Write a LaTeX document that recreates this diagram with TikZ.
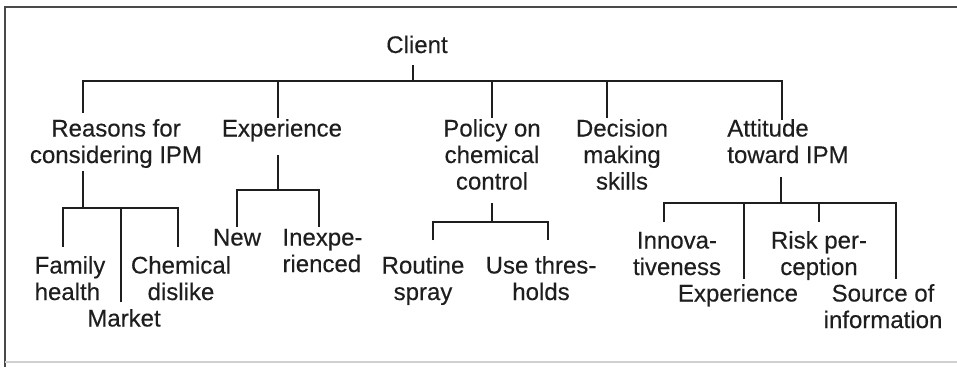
\documentclass[tikz,border=0pt]{standalone}
\usepackage{fontspec}
\setmainfont{Liberation Sans}
\newfontfamily\lblfont{Liberation Sans}[FakeBold=0.3]
\begin{document}
\definecolor{ink}{HTML}{1E1E1E}
\definecolor{framec}{HTML}{4A4A4A}
\definecolor{framelight}{HTML}{D0D0D0}
\begin{tikzpicture}[x=1pt,y=-1pt,
  lbl/.style={font=\lblfont\fontsize{24}{26.5}\selectfont, inner sep=0pt, text=ink, anchor=base},
  link/.style={line width=2.4pt, draw=ink, line cap=butt},
  framepen/.style={line width=2pt, draw=framec}]
\useasboundingbox[fill=white] (0,0) rectangle (957,367);
% frame
\coordinate (ftl) at (5,6.5);
\coordinate (ftr) at (957,6.5);
\coordinate (fbl) at (5,367);
\coordinate (fbl2) at (5,362);
\coordinate (fbr) at (957,362);
\draw[framepen] (ftr) -- (ftl) -- (fbl);
\draw[line width=1.2pt, draw=framelight] (fbl2) -- (fbr);

% labels (multi-line nodes are placed by the baseline of their last line)
\node[lbl] (client) at (417,53) {Client};
\node[lbl, align=center] (reasons) at (116,163) {Reasons for\\considering IPM};
\node[lbl] (exper) at (282,136.5) {Experience};
\node[lbl, align=center] (policy) at (492,189.5) {Policy on\\chemical\\control};
\node[lbl, align=center] (decision) at (622,189.5) {Decision\\making\\skills};
\node[lbl, align=left] (attitude) at (788,163) {Attitude\\toward IPM};

\node[lbl, align=left] (family) at (70,300) {Family\\health};
\node[lbl] (market) at (124,326.5) {Market};
\node[lbl, align=center] (chem) at (181,300) {Chemical\\dislike};

\node[lbl] (new) at (237,245.5) {New};
\node[lbl, align=left] (inexp) at (322.5,272) {Inexpe-\\rienced};

\node[lbl, align=center] (routine) at (423,300) {Routine\\spray};
\node[lbl, align=center] (thresh) at (541,300) {Use thres-\\holds};

\node[lbl, align=center] (innov) at (677,275) {Innova-\\tiveness};
\node[lbl, align=center] (risk) at (819,275) {Risk per-\\ception};
\node[lbl] (exper2) at (738,301.5) {Experience};
\node[lbl, align=center] (source) at (883,328) {Source of\\information};

% top level
\coordinate (c0) at (413,65);
\coordinate (c1) at (413,81);
\coordinate (bl) at (83,81);
\coordinate (br) at (782,81);
\coordinate (d1) at (83,113);
\coordinate (d2t) at (278,81);  \coordinate (d2) at (278,118);
\coordinate (d3t) at (492,81);  \coordinate (d3) at (492,118);
\coordinate (d4t) at (607,81);  \coordinate (d4) at (607,118);
\coordinate (d5) at (782,120);
\draw[link] (c0) -- (c1);
\draw[link] (d1) -- (bl) -- (br) -- (d5);
\draw[link] (d2t) -- (d2);
\draw[link] (d3t) -- (d3);
\draw[link] (d4t) -- (d4);

% reasons subtree
\coordinate (r0) at (83,171);
\coordinate (r1) at (83,208);
\coordinate (rl) at (63,208);  \coordinate (rld) at (63,247);
\coordinate (rr) at (178,208); \coordinate (rrd) at (178,247);
\coordinate (rm) at (121,208); \coordinate (rmd) at (121,302);
\draw[link] (r0) -- (r1);
\draw[link] (rld) -- (rl) -- (rr) -- (rrd);
\draw[link] (rm) -- (rmd);

% experience subtree
\coordinate (e0) at (278,155);
\coordinate (e1) at (278,190);
\coordinate (el) at (237,190); \coordinate (eld) at (237,227);
\coordinate (er) at (319,190); \coordinate (erd) at (319,227);
\draw[link] (e0) -- (e1);
\draw[link] (eld) -- (el) -- (er) -- (erd);

% policy subtree
\coordinate (p0) at (492,203);
\coordinate (p1) at (492,222);
\coordinate (pl) at (433,222); \coordinate (pld) at (433,240);
\coordinate (pr) at (548,222); \coordinate (prd) at (548,240);
\draw[link] (p0) -- (p1);
\draw[link] (pld) -- (pl) -- (pr) -- (prd);

% attitude subtree
\coordinate (a0) at (781,177);
\coordinate (a1) at (781,203);
\coordinate (al) at (664,203); \coordinate (ald) at (664,222);
\coordinate (ar) at (896,203); \coordinate (ard) at (896,279);
\coordinate (ae) at (744,203); \coordinate (aed) at (744,279);
\coordinate (ak) at (819,203); \coordinate (akd) at (819,222);
\draw[link] (a0) -- (a1);
\draw[link] (ald) -- (al) -- (ar) -- (ard);
\draw[link] (ae) -- (aed);
\draw[link] (ak) -- (akd);
\end{tikzpicture}
\end{document}
